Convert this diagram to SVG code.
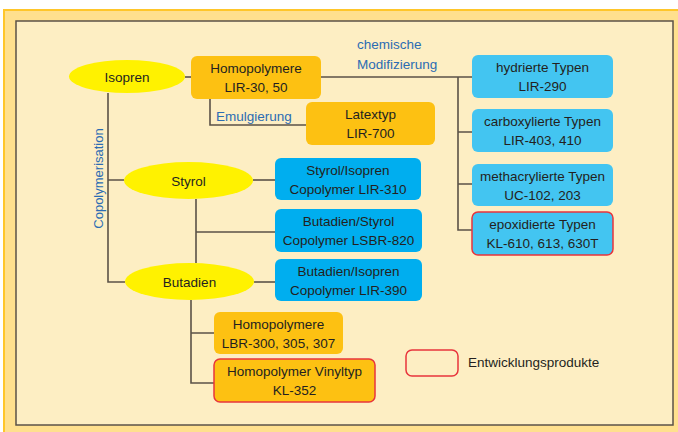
<svg xmlns="http://www.w3.org/2000/svg" width="678" height="432" viewBox="0 0 678 432">
<style>
text{font-family:"Liberation Sans",Arial,sans-serif;font-size:13.5px;fill:#231f20;text-anchor:middle}
.lbl{fill:#2b6cb3;text-anchor:start;font-size:13.5px}
.amb{fill:#fdc112}
.lb{fill:#43c5f1}
.db{fill:#00aeef}
.ell{fill:#fff200}
.dev{stroke:#e8343c;stroke-width:1.5}
.con{fill:none;stroke:#5b5248;stroke-width:1.6}
</style>
<rect x="4" y="10" width="676" height="424" fill="#ffe08e" stroke="#ffc62a" stroke-width="2"/>
<rect x="16" y="21" width="657" height="404" fill="#fdeec3" stroke="#5b5248" stroke-width="1.5"/>
<g id="connectors" class="con">
<path d="M185 77H191"/>
<path d="M321 77H472M458 77V230H472M458 132H472M458 184H472"/>
<path d="M210 99V125H306"/>
<path d="M108 93V282H125M108 180H124"/>
<path d="M253 180H275"/>
<path d="M196 199V263M196 232H275"/>
<path d="M254 282H275"/>
<path d="M191 300V383H214M191 333H214"/>
</g>
<text class="lbl" x="357" y="49">chemische</text>
<text class="lbl" x="357" y="69">Modifizierung</text>
<text class="lbl" x="216" y="121">Emulgierung</text>
<text class="lbl" transform="translate(102.5,178.5) rotate(-90)" style="text-anchor:middle;font-size:13px">Copolymerisation</text>
<g id="isopren"><ellipse class="ell" cx="127" cy="76.5" rx="58" ry="16.5"/><text x="127" y="81.5">Isopren</text></g>
<g id="styrol"><ellipse class="ell" cx="188.5" cy="180.5" rx="64.5" ry="18.5"/><text x="188.5" y="185.5">Styrol</text></g>
<g id="butadien"><ellipse class="ell" cx="189.5" cy="281.5" rx="64.5" ry="18.5"/><text x="189.5" y="286.5">Butadien</text></g>
<g id="homo-lir"><rect class="amb" x="191" y="56" width="130" height="43" rx="6"/><text x="256" y="73">Homopolymere</text><text x="256" y="92">LIR-30, 50</text></g>
<g id="latextyp"><rect class="amb" x="306" y="102" width="129" height="43" rx="6"/><text x="370.5" y="119">Latextyp</text><text x="370.5" y="138">LIR-700</text></g>
<g id="hydrierte"><rect class="lb" x="472" y="55" width="141" height="43" rx="6"/><text x="542.5" y="72">hydrierte Typen</text><text x="542.5" y="91">LIR-290</text></g>
<g id="carboxylierte"><rect class="lb" x="472" y="109" width="141" height="43" rx="6"/><text x="542.5" y="126">carboxylierte Typen</text><text x="542.5" y="145">LIR-403, 410</text></g>
<g id="methacrylierte"><rect class="lb" x="472" y="164" width="141" height="42" rx="6"/><text x="542.5" y="180.5">methacrylierte Typen</text><text x="542.5" y="199.5">UC-102, 203</text></g>
<g id="epoxidierte"><rect class="lb dev" x="472" y="212" width="141" height="43" rx="6"/><text x="542.5" y="229">epoxidierte Typen</text><text x="542.5" y="248">KL-610, 613, 630T</text></g>
<g id="styrol-isopren"><rect class="db" x="275" y="158" width="146" height="42" rx="6"/><text x="348" y="174.5">Styrol/Isopren</text><text x="348" y="193.5">Copolymer LIR-310</text></g>
<g id="butadien-styrol"><rect class="db" x="275" y="209" width="147" height="43" rx="6"/><text x="348.5" y="226">Butadien/Styrol</text><text x="348.5" y="245">Copolymer LSBR-820</text></g>
<g id="butadien-isopren"><rect class="db" x="275" y="259" width="147" height="42" rx="6"/><text x="348.5" y="275.5">Butadien/Isopren</text><text x="348.5" y="294.5">Copolymer LIR-390</text></g>
<g id="homo-lbr"><rect class="amb" x="214" y="312" width="129" height="42" rx="6"/><text x="278.5" y="328.5">Homopolymere</text><text x="278.5" y="347.5">LBR-300, 305, 307</text></g>
<g id="vinyltyp"><rect class="amb dev" x="214" y="359" width="161" height="43" rx="6"/><text x="294.5" y="376">Homopolymer Vinyltyp</text><text x="294.5" y="395">KL-352</text></g>
<g id="legend"><rect class="dev" x="406" y="350" width="52" height="26" rx="6" fill="none"/><text x="468" y="367" style="text-anchor:start">Entwicklungsprodukte</text></g>
</svg>
